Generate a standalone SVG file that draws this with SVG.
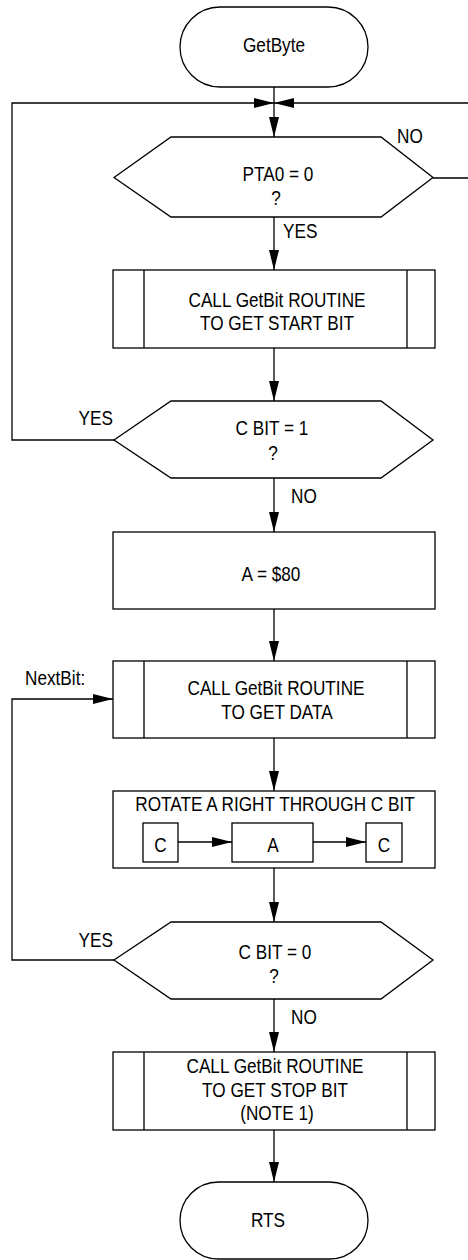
<svg xmlns="http://www.w3.org/2000/svg" width="468" height="1260" viewBox="0 0 468 1260">
<defs>
<style>
.s{fill:#fff;stroke:#000;stroke-width:1.3}
.l{fill:none;stroke:#000;stroke-width:1.3}
.t{font-family:"Liberation Sans",Arial,sans-serif;font-size:20px;fill:#000;text-anchor:middle}
.ts{text-anchor:start}
.te{text-anchor:end}
</style>
<marker id="ah" markerUnits="userSpaceOnUse" markerWidth="20" markerHeight="10" refX="20" refY="5" orient="auto">
<path d="M0,0 L20,5 L0,10 z" fill="#000"/>
</marker>
</defs>
<rect width="468" height="1260" fill="#fff"/>
<g id="connectors">
<path class="l" d="M274,87 V137" marker-end="url(#ah)"/>
<path class="l" d="M114,440 H12 V103 H274" marker-end="url(#ah)"/>
<path class="l" d="M433,178 H470 V103 H274" marker-end="url(#ah)"/>
<path class="l" d="M274,217 V270" marker-end="url(#ah)"/>
<path class="l" d="M274,348 V401" marker-end="url(#ah)"/>
<path class="l" d="M274,478 V532" marker-end="url(#ah)"/>
<path class="l" d="M274,609 V661" marker-end="url(#ah)"/>
<path class="l" d="M274,738 V791" marker-end="url(#ah)"/>
<path class="l" d="M274,868 V922" marker-end="url(#ah)"/>
<path class="l" d="M114,960 H12 V699 H113" marker-end="url(#ah)"/>
<path class="l" d="M274,999 V1052" marker-end="url(#ah)"/>
<path class="l" d="M274,1130 V1182" marker-end="url(#ah)"/>
<text class="t ts" transform="translate(397,143) scale(0.86,1)">NO</text>
<text class="t ts" transform="translate(283,238) scale(0.86,1)">YES</text>
<text class="t te" transform="translate(113,425) scale(0.86,1)">YES</text>
<text class="t ts" transform="translate(291,503) scale(0.86,1)">NO</text>
<text class="t ts" transform="translate(25,685) scale(0.86,1)">NextBit:</text>
<text class="t te" transform="translate(113,947) scale(0.86,1)">YES</text>
<text class="t ts" transform="translate(291,1024) scale(0.86,1)">NO</text>
</g>
<g id="start">
<rect class="s" x="180" y="7" width="188" height="80" rx="40" ry="40"/>
<text class="t" transform="translate(274,52) scale(0.86,1)">GetByte</text>
</g>
<g id="dec1">
<polygon class="s" points="114,177.5 171,137 381,137 433,177.5 381,217 171,217"/>
<text class="t" transform="translate(278,181) scale(0.86,1)">PTA0 = 0</text>
<text class="t" transform="translate(276,205) scale(0.86,1)">?</text>
</g>
<g id="sub1">
<rect class="s" x="113" y="270" width="322" height="78"/>
<path class="l" d="M144,270 V348 M407,270 V348"/>
<text class="t" transform="translate(277,307) scale(0.86,1)">CALL GetBit ROUTINE</text>
<text class="t" transform="translate(277,330) scale(0.86,1)">TO GET START BIT</text>
</g>
<g id="dec2">
<polygon class="s" points="114,440 171,401 381,401 433,440 381,478 171,478"/>
<text class="t" transform="translate(272,435) scale(0.86,1)">C BIT = 1</text>
<text class="t" transform="translate(273,460) scale(0.86,1)">?</text>
</g>
<g id="init">
<rect class="s" x="113" y="532" width="322" height="77"/>
<text class="t" transform="translate(271,581) scale(0.86,1)">A = $80</text>
</g>
<g id="sub2">
<rect class="s" x="113" y="661" width="322" height="77"/>
<path class="l" d="M144,661 V738 M407,661 V738"/>
<text class="t" transform="translate(276,695) scale(0.86,1)">CALL GetBit ROUTINE</text>
<text class="t" transform="translate(277,719) scale(0.86,1)">TO GET DATA</text>
</g>
<g id="rotate">
<rect class="s" x="113" y="791" width="322" height="77"/>
<text class="t" transform="translate(275,811) scale(0.86,1)">ROTATE A RIGHT THROUGH C BIT</text>
<rect class="s" x="143" y="823" width="35" height="39"/>
<rect class="s" x="232" y="823" width="81" height="39"/>
<rect class="s" x="366" y="823" width="36" height="39"/>
<path class="l" d="M178,842 H232" marker-end="url(#ah)"/>
<path class="l" d="M313,842 H366" marker-end="url(#ah)"/>
<text class="t" transform="translate(160.5,852) scale(0.86,1)">C</text>
<text class="t" transform="translate(273,852) scale(0.86,1)">A</text>
<text class="t" transform="translate(384,852) scale(0.86,1)">C</text>
</g>
<g id="dec3">
<polygon class="s" points="114,960 171,922 381,922 433,960 381,999 171,999"/>
<text class="t" transform="translate(275,959) scale(0.86,1)">C BIT = 0</text>
<text class="t" transform="translate(274,983) scale(0.86,1)">?</text>
</g>
<g id="sub3">
<rect class="s" x="113" y="1052" width="322" height="78"/>
<path class="l" d="M144,1052 V1130 M407,1052 V1130"/>
<text class="t" transform="translate(275,1073) scale(0.86,1)">CALL GetBit ROUTINE</text>
<text class="t" transform="translate(275,1097) scale(0.86,1)">TO GET STOP BIT</text>
<text class="t" transform="translate(277,1120) scale(0.86,1)">(NOTE 1)</text>
</g>
<g id="end">
<rect class="s" x="180" y="1182" width="188" height="77" rx="38.5" ry="38.5"/>
<text class="t" transform="translate(268,1227) scale(0.86,1)">RTS</text>
</g>
</svg>
